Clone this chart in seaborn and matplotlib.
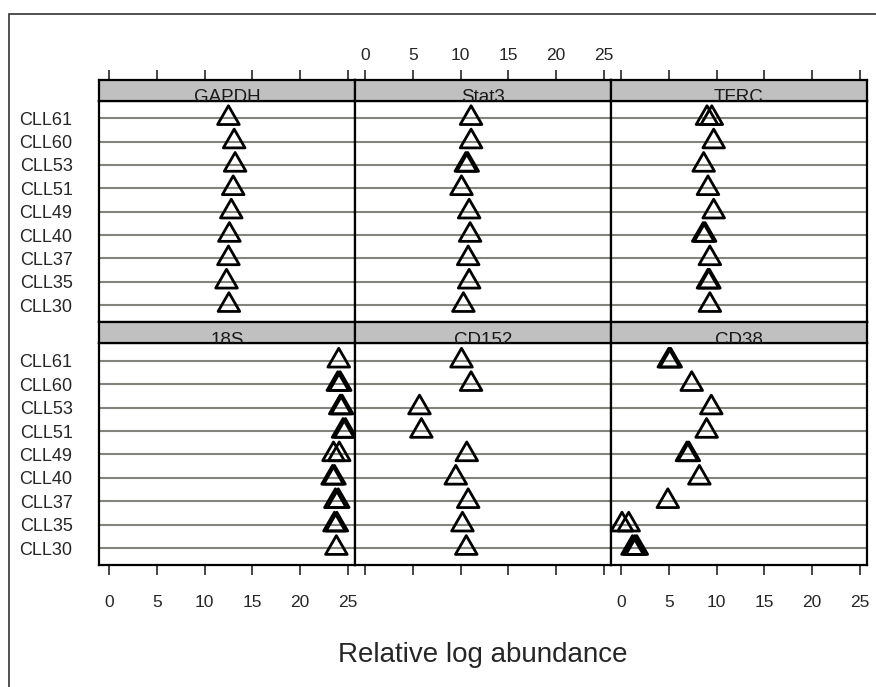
import numpy as np
import pandas as pd
import matplotlib
matplotlib.use("Agg")
import matplotlib.pyplot as plt
from matplotlib.patches import Rectangle
from matplotlib.path import Path
import seaborn as sns

# ---- data (rows listed top to bottom) ----
samples = ["CLL61", "CLL60", "CLL53", "CLL51", "CLL49", "CLL40", "CLL37", "CLL35", "CLL30"]
genes_top = ["GAPDH", "Stat3", "TFRC"]
genes_bottom = ["18S", "CD152", "CD38"]

gapdh = [[12.5], [13.1], [13.2], [13.0], [12.8], [12.6], [12.5], [12.3], [12.55]]
stat3 = [[11.1], [11.1], [10.55, 10.75], [10.1], [10.9], [11.0], [10.8], [10.9], [10.3]]
tfrc = [[9.0, 9.5], [9.7], [8.65], [9.1], [9.7], [8.6, 8.8], [9.3], [9.1, 9.25], [9.3]]
s18 = [[24.05], [23.95, 24.2], [24.2, 24.4], [24.5, 24.75], [23.5, 24.1],
       [23.4, 23.6], [23.7, 24.0], [23.6, 23.85], [23.8]]
cd152 = [[10.1], [11.1], [5.7], [5.9], [10.65], [9.5], [10.8], [10.2], [10.6]]
cd38 = [[5.0, 5.2], [7.4], [9.45], [8.96], [6.9, 7.1], [8.2], [4.9], [0.1, 0.8], [1.2, 1.45, 1.65]]

xticks = [0, 5, 10, 15, 20, 25]
xlabel = "Relative log abundance"

gene_values = {"GAPDH": gapdh, "Stat3": stat3, "TFRC": tfrc,
               "18S": s18, "CD152": cd152, "CD38": cd38}
rows = []
for g, vals in gene_values.items():
    for s, reps in zip(samples, vals):
        for v in reps:
            rows.append({"gene": g, "sample": s, "value": v})
df = pd.DataFrame(rows)

# ---- style ----
sns.set_style("white")
plt.rcParams["font.family"] = ["Liberation Sans", "DejaVu Sans"]

W, H = 876, 687
fig = plt.figure(figsize=(W / 100, H / 100), dpi=100)

def fr(x0, y_top, w, h):
    return [x0 / W, 1 - (y_top + h) / H, w / W, h / H]

col_x = [99, 355, 611]
col_w = 256
layout = [
    # (genes, strip_top, strip_h, body_top, body_h, is_top_row)
    (genes_top, 80, 20.5, 100.5, 221.5, True),
    (genes_bottom, 322, 21, 343, 222, False),
]

tri = Path([(0, 0.577), (-0.5, -0.289), (0.5, -0.289), (0, 0.577)],
           [Path.MOVETO, Path.LINETO, Path.LINETO, Path.CLOSEPOLY])
xlim = (-1.05, 25.75)
grid_col = "#84847c"

for genes, s_top, s_h, b_top, b_h, is_top in layout:
    for ci, g in enumerate(genes):
        ax = fig.add_axes(fr(col_x[ci], b_top, col_w, b_h))
        sub = df[df["gene"] == g]
        sns.stripplot(data=sub, x="value", y="sample", order=samples, orient="h",
                      jitter=False, marker=tri, size=18, color="black",
                      linewidth=2.0, edgecolor="black", ax=ax, zorder=3)
        for coll in ax.collections:
            coll.set_facecolor("none")
            coll.set_edgecolor("black")
            coll.set_linewidth(2.0)
            coll.set_clip_on(False)
        ax.set_xlim(*xlim)
        ax.set_ylim(8.72, -0.76)
        ax.set_xlabel("")
        ax.set_ylabel("")
        ax.grid(axis="y", color=grid_col, linewidth=1.5)
        ax.grid(axis="x", visible=False)
        ax.set_axisbelow(True)
        for sp in ax.spines.values():
            sp.set_linewidth(1.6)
            sp.set_color("black")
        ax.tick_params(axis="y", length=0, labelsize=13, pad=19,
                       labelleft=(ci == 0))
        ax.set_xticks(xticks)
        if is_top:
            ax.tick_params(axis="x", bottom=False, labelbottom=False)
        else:
            ax.tick_params(axis="x", direction="out", length=7.5, width=1.2,
                           bottom=True, labelbottom=(ci != 1), labelsize=12.5,
                           pad=14)

        # strip
        sax = fig.add_axes(fr(col_x[ci], s_top, col_w, s_h))
        sax.set_facecolor("#c0c0c0")
        sax.set_xlim(*xlim)
        sax.set_yticks([])
        for sp in sax.spines.values():
            sp.set_linewidth(1.6)
            sp.set_color("black")
        t = sax.text(0.5, -0.08, g, transform=sax.transAxes, ha="center",
                     va="baseline", fontsize=13.5, color="#1a1a1a", clip_on=True)
        t.set_clip_box(sax.bbox)
        sax.set_xticks(xticks)
        if is_top:
            sax.xaxis.tick_top()
            sax.tick_params(axis="x", direction="out", length=7.5, width=1.2,
                            top=True, bottom=False, labeltop=(ci == 1),
                            labelbottom=False, labelsize=12.5, pad=5)
        else:
            sax.tick_params(axis="x", bottom=False, top=False,
                            labelbottom=False, labeltop=False)

fig.text(483 / W, 1 - 655 / H, xlabel, ha="center", va="center", fontsize=20)

# outer frame (left and top edges visible)
frame = Rectangle((9 / W, -0.5), 2.0, 1.5 - 14 / H, transform=fig.transFigure,
                  fill=False, edgecolor="#333333", linewidth=1.2, clip_on=False)
fig.add_artist(frame)

fig.savefig("out.png", dpi=100)
